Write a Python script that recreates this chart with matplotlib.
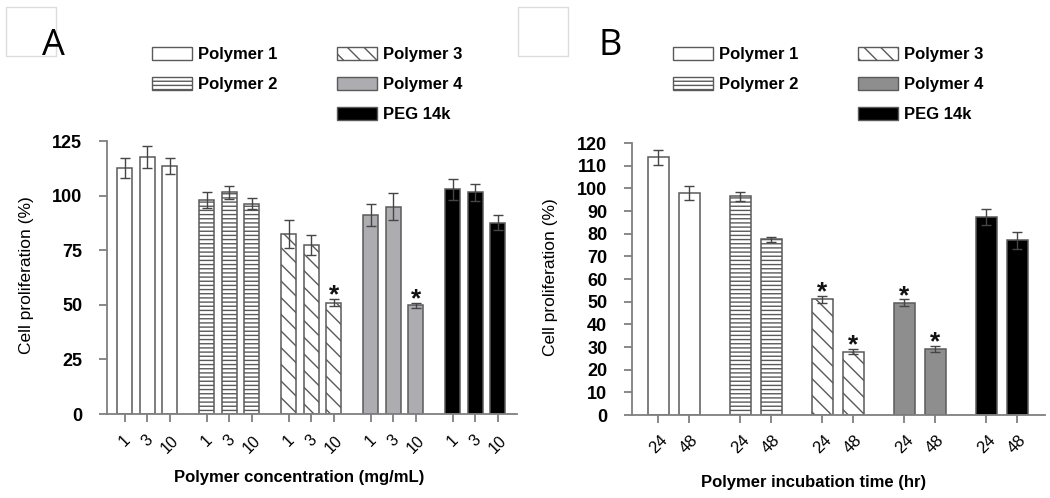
import matplotlib
matplotlib.use('Agg')
import matplotlib.pyplot as plt
import numpy as np
from matplotlib.patches import Patch, Rectangle
from matplotlib.transforms import ScaledTranslation

plt.rcParams['font.family'] = ['Liberation Sans', 'DejaVu Sans']
plt.rcParams['hatch.linewidth'] = 1.0

# ---------------- data ----------------
series = ['Polymer 1', 'Polymer 2', 'Polymer 3', 'Polymer 4', 'PEG 14k']

# Panel A: concentration (mg/mL)
conc_labels = ['1', '3', '10']
a_p1 = [112.5, 117.7, 113.5]
a_p2 = [98.0, 101.5, 96.2]
a_p3 = [82.5, 77.5, 51.0]
a_p4 = [91.0, 95.0, 49.8]
a_peg = [102.8, 101.5, 87.6]
a_p1_err = [4.5, 5.0, 3.5]
a_p2_err = [3.7, 3.0, 2.5]
a_p3_err = [6.5, 4.5, 1.5]
a_p4_err = [5.0, 6.0, 1.2]
a_peg_err = [4.6, 3.8, 3.5]
a_sig = [[0, 0, 0], [0, 0, 0], [0, 0, 1], [0, 0, 1], [0, 0, 0]]

# Panel B: incubation time (hr)
time_labels = ['24', '48']
b_p1 = [113.7, 98.0]
b_p2 = [96.5, 77.5]
b_p3 = [51.0, 28.0]
b_p4 = [49.5, 29.0]
b_peg = [87.5, 77.0]
b_p1_err = [3.2, 3.2]
b_p2_err = [2.0, 1.2]
b_p3_err = [1.5, 1.2]
b_p4_err = [1.5, 1.3]
b_peg_err = [3.6, 3.7]
b_sig = [[0, 0], [0, 0], [1, 1], [1, 1], [0, 0]]

a_yticks = [0, 25, 50, 75, 100, 125]
b_yticks = list(range(0, 121, 10))

# ---------------- styles ----------------
EDGE = '#5a5a5a'
SPINE = '#7f7f7f'
fills_a = ['white', 'white', 'white', '#adadb1', 'black']
fills_b = ['white', 'white', 'white', '#8e8e8e', 'black']
hatches = ['', '----', '\\\\', '', '']

fig = plt.figure(figsize=(10.5, 4.98), dpi=100)
W, H = 1050.0, 498.0


def px_axes(l, r, b, t):
    return fig.add_axes([l / W, 1 - b / H, (r - l) / W, (b - t) / H])


def draw_panel(ax, means, errs, sig, ticklabels, group_step, width, fills,
               xlim, ylim, yticks, xtick_fs, xtick_pad):
    n = len(ticklabels)
    xs, labs = [], []
    for g, (m, e, s) in enumerate(zip(means, errs, sig)):
        x = g * group_step + np.arange(n)
        ax.bar(x, m, width=width, color=fills[g], hatch=hatches[g],
               edgecolor=EDGE, linewidth=1.1, zorder=2)
        ax.errorbar(x, m, yerr=e, fmt='none', ecolor='#454545',
                    elinewidth=1.0, capsize=3.3, capthick=1.0, zorder=3)
        for xi, mi, ei, si in zip(x, m, e, s):
            if si:
                ax.annotate('*', (xi, mi + ei), xytext=(0, -2.5),
                            textcoords='offset points', ha='center',
                            va='baseline', fontsize=19, fontweight='bold',
                            color='#111111')
        xs += list(x)
        labs += ticklabels
    ax.set_xlim(*xlim)
    ax.set_ylim(*ylim)
    ax.set_yticks(yticks)
    ax.set_xticks(xs, labs, rotation=45, ha='center', fontsize=xtick_fs)
    off = ScaledTranslation(-5 / 100, 0, fig.dpi_scale_trans)
    for lab in ax.get_xticklabels():
        lab.set_transform(lab.get_transform() + off)
    for lab in ax.get_yticklabels():
        lab.set_fontweight('bold')
    ax.spines[['top', 'right']].set_visible(False)
    for sp in ['left', 'bottom']:
        ax.spines[sp].set_color(SPINE)
        ax.spines[sp].set_linewidth(1.3)
    ax.tick_params(axis='y', length=5.8, width=1.3, color=SPINE, pad=12,
                   labelsize=13)
    ax.tick_params(axis='x', length=5.8, width=1.3, color=SPINE,
                   pad=xtick_pad)
    ax.patch.set_visible(False)


axA = px_axes(107, 517, 414, 141)
axB = px_axes(632, 1045, 415, 143)

draw_panel(axA, [a_p1, a_p2, a_p3, a_p4, a_peg],
           [a_p1_err, a_p2_err, a_p3_err, a_p4_err, a_peg_err], a_sig,
           conc_labels, 3.66, 0.67, fills_a, (-0.8, 17.5), (0, 125),
           a_yticks, 11.5, 7.5)
draw_panel(axB, [b_p1, b_p2, b_p3, b_p4, b_peg],
           [b_p1_err, b_p2_err, b_p3_err, b_p4_err, b_peg_err], b_sig,
           time_labels, 2.645, 0.68, fills_b, (-0.84, 12.48), (0, 120),
           b_yticks, 12, 6.5)

# axis labels
for xc, yc in [(27, 275), (551, 277)]:
    fig.text(xc / W, 1 - yc / H, 'Cell proliferation (%)', rotation=90,
             ha='center', va='center', fontsize=12.5)
fig.text(299 / W, 1 - 477 / H, 'Polymer concentration (mg/mL)',
         ha='center', va='center', fontsize=12, fontweight='bold')
fig.text(814 / W, 1 - 482 / H, 'Polymer incubation time (hr)',
         ha='center', va='center', fontsize=12, fontweight='bold')

# panel letters and the faint boxes
for (bx0, bx1), (lx, letter) in [((6, 56), (53, 'A')), ((518, 568), (610, 'B'))]:
    fig.add_artist(Rectangle((bx0 / W, 1 - 56 / H), (bx1 - bx0) / W, 49 / H,
                             transform=fig.transFigure, fill=False,
                             edgecolor='#dcdcdc', linewidth=1.0))
    fig.text(lx / W, 1 - 46 / H, letter, ha='center', va='center',
             fontsize=26, family=['Open Sans', 'DejaVu Sans'],
             fontweight='normal')

# legends
for fills, x0 in [(fills_a, 152), (fills_b, 673)]:
    handles = []
    for name, fc, ht in zip(series, fills, hatches):
        handles.append(Patch(facecolor=fc, edgecolor=EDGE, hatch=ht,
                             linewidth=1.0, label=name))
    blank = Patch(facecolor='none', edgecolor='none', label=' ')
    order = [handles[0], handles[1], blank, handles[2], handles[3], handles[4]]
    fig.legend(order, [h.get_label() for h in order], loc='upper left',
               bbox_to_anchor=(x0 / W, 1 - 46.5 / H), ncol=2, frameon=False,
               borderpad=0, borderaxespad=0, handlelength=2.4,
               handleheight=0.9, handletextpad=0.36, labelspacing=0.86,
               columnspacing=3.6, prop={'weight': 'bold', 'size': 12})

fig.savefig('out.png', dpi=100)
